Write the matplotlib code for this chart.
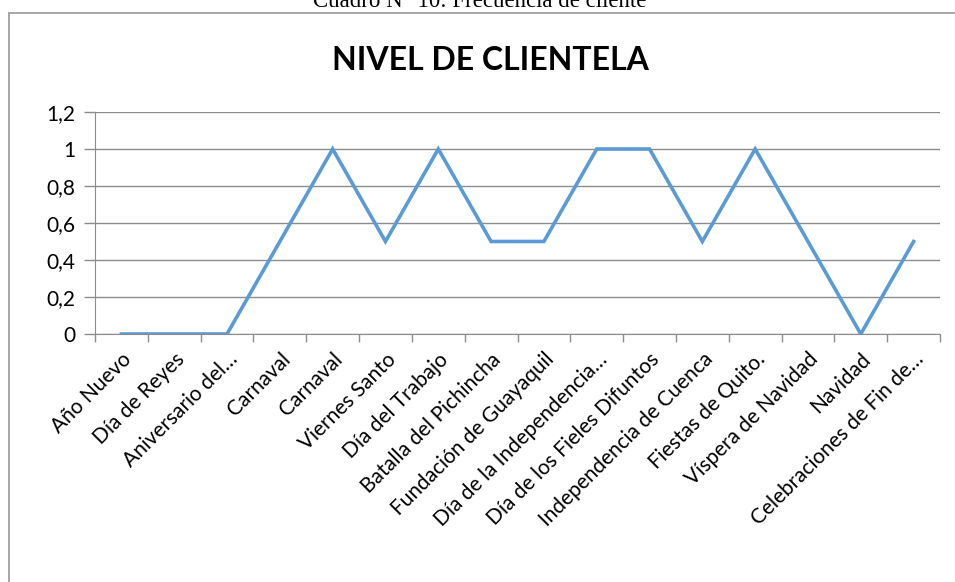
import matplotlib
matplotlib.use("Agg")
import matplotlib.pyplot as plt
from matplotlib.lines import Line2D

plt.rcParams['font.family'] = ['Lato', 'DejaVu Sans']

# feriados y nivel de clientela registrado
feriados = [
    "Año Nuevo", "Día de Reyes", "Aniversario del…", "Carnaval", "Carnaval",
    "Viernes Santo", "Día del Trabajo", "Batalla del Pichincha",
    "Fundación de Guayaquil", "Día de la Independencia…",
    "Día de los Fieles Difuntos", "Independencia de Cuenca",
    "Fiestas de Quito.", "Víspera de Navidad", "Navidad",
    "Celebraciones de Fin de…",
]
clientela = [0, 0, 0, 0.5, 1, 0.5, 1, 0.5, 0.5, 1, 1, 0.5, 1, 0.5, 0, 0.5]
yticks = [0, 0.2, 0.4, 0.6, 0.8, 1, 1.2]
ytick_labels = ["0", "0,2", "0,4", "0,6", "0,8", "1", "1,2"]

W, H = 955, 582
fig = plt.figure(figsize=(W / 100, H / 100), dpi=100)

# marco del grafico
borde = "#a6a6a6"
fig.add_artist(Line2D([9 / W, 9 / W], [0, 1 - 13 / H], color=borde, lw=1.4,
                      transform=fig.transFigure))
fig.add_artist(Line2D([9 / W, 1], [1 - 13 / H, 1 - 13 / H], color=borde, lw=1.4,
                      transform=fig.transFigure))

fig.text(480 / W, 1 - 7 / H, "Cuadro N° 10: Frecuencia de cliente",
         family="Liberation Serif", fontsize=16.5, ha="center", va="baseline")

ax = fig.add_axes([95 / W, 1 - 334 / H, 845 / W, 222 / H])
x = range(len(feriados))
ax.plot(x, clientela, color="#5b9bd5", lw=2.6, solid_joinstyle="miter")

ax.set_xlim(-0.5, len(feriados) - 0.5)
ax.set_ylim(0, 1.2)
ax.set_yticks(yticks)
ax.set_yticklabels(ytick_labels, fontsize=15)
ax.yaxis.grid(True, color="#8c8c8c", lw=1)
ax.set_axisbelow(True)

# marcas del eje x entre categorias
ax.set_xticks([i - 0.5 for i in range(len(feriados) + 1)])
ax.set_xticklabels([])
ax.set_xticks(list(x), minor=True)
ax.set_xticklabels(feriados, minor=True, rotation=45, ha="right",
                   rotation_mode="anchor", fontsize=15)
ax.tick_params(axis="x", which="minor", length=0, pad=11)
ax.tick_params(axis="x", which="major", length=6, color="#8c8c8c", width=1)
ax.tick_params(axis="y", length=8, color="#8c8c8c", width=1, pad=6)

for s in ["top", "right"]:
    ax.spines[s].set_visible(False)
for s in ["left", "bottom"]:
    ax.spines[s].set_color("#8c8c8c")

fig.text(490 / W, 1 - 60 / H, "NIVEL DE CLIENTELA", fontsize=23,
         fontweight="bold", ha="center", va="center")

fig.savefig("out.png", dpi=100)
